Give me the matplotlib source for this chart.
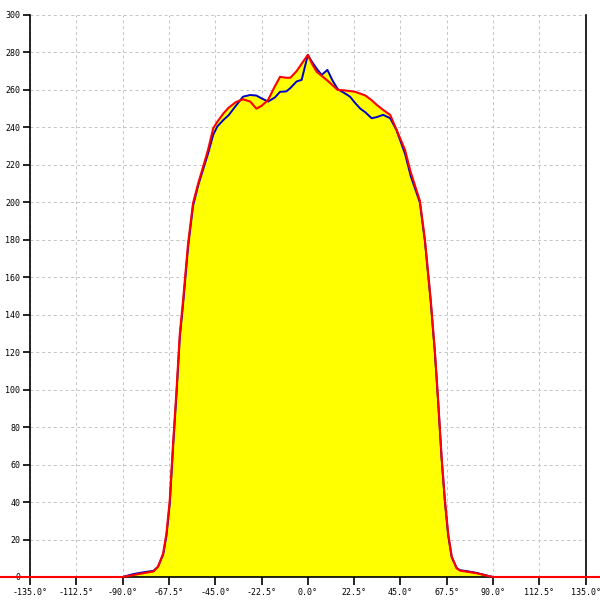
import matplotlib
matplotlib.use("Agg")
import matplotlib.pyplot as plt
import numpy as np

angles = [-150, -90, -85, -80, -75, -72.8, -70.3, -68.7, -67.1, -65.5, -63.8, -62.2, -60.6,
          -58.2, -55.8, -53.3, -48.5, -46, -44, -41, -38.5, -35, -31.5, -28, -25, -22.5,
          -19.3, -16, -13.5, -10.5, -8.5, -5.5, -3, 0, 2, 4.2, 6.7, 9.5, 12, 14.5, 17.5,
          20.5, 23, 25.5, 28, 31, 33.5, 36.6, 40, 43, 47.2, 50, 54.4, 56.9, 59.7, 60.8,
          61.7, 63.3, 65, 66.6, 68.2, 69.9, 72.3, 74, 78, 82, 87.7, 90, 150]

red_values = [0, 0, 1, 2, 3, 5.5, 12.6, 23.3, 41, 71, 100, 130, 148,
              178, 199.5, 210, 228, 239.5, 243, 247.5, 250.5, 253.5, 255, 253.8, 250, 251.5,
              254.7, 262, 267, 266.5, 266.5, 270, 274, 278.7, 274, 269.8, 267.5, 265, 262.5, 260, 259.8,
              259.4, 259, 258, 257, 254.5, 252, 249.3, 246.7, 239, 228, 216, 201, 180, 148, 133,
              121, 94.5, 64, 41, 23, 11, 4.6, 3.4, 2.7, 2, 0.5, 0, 0]

blue_values = [0, 0, 1.5, 2.5, 3.3, 5.5, 12, 22, 39, 69, 98, 128, 146,
               176, 198, 209, 226, 236, 240.5, 244, 246.5, 251.5, 256.4, 257.3, 257, 255.5,
               253.8, 256, 259, 259.2, 261, 264.5, 265.4, 278.7, 275, 271.5, 268, 270.7, 265, 260.5, 258.5,
               256.4, 253, 250, 248, 244.9, 245.5, 246.7, 244.9, 238.7, 226, 214, 200, 179, 147, 132,
               120, 93.5, 63, 40, 22, 10.5, 4.8, 3.6, 3, 2.2, 0.6, 0, 0]

x_ticks = [-135.0, -112.5, -90.0, -67.5, -45.0, -22.5, 0.0, 22.5, 45.0, 67.5, 90.0, 112.5, 135.0]
y_ticks = list(range(0, 301, 20))

x = np.array(angles)
r = np.array(red_values)
b = np.array(blue_values)

fig = plt.figure(figsize=(6, 6), dpi=100)
ax = fig.add_axes([30/600, 23/600, 555.7/600, 562/600])

ax.fill_between(x, 0, np.maximum(r, b), color="#ffff00", linewidth=0, zorder=1)
ax.plot(x, b, color="#0000c8", linewidth=1.4, zorder=3, clip_on=False)
ax.plot(x, r, color="#ff0000", linewidth=1.5, zorder=4, clip_on=False)

ax.set_xlim(-135, 135)
ax.set_ylim(0, 300)
ax.set_xticks(x_ticks)
ax.set_xticklabels([f"{v:.1f}°" for v in x_ticks])
ax.set_yticks(y_ticks)
ax.set_yticklabels([str(v) for v in y_ticks])

ax.grid(True, color="#c4c4c4", linestyle=(0, (3, 3)), linewidth=0.7, zorder=0)
ax.set_axisbelow(True)

for s in ["left", "right", "bottom"]:
    ax.spines[s].set_color("black")
    ax.spines[s].set_linewidth(1.2)
ax.spines["top"].set_visible(False)

ax.tick_params(axis="both", direction="out", colors="black", width=1.2)
ax.tick_params(axis="y", length=5, pad=2, right=False)
ax.tick_params(axis="x", length=6, pad=2)
for lab in ax.get_xticklabels() + ax.get_yticklabels():
    lab.set_family("DejaVu Sans Mono")
    lab.set_fontsize(6)

fig.savefig("out.png", dpi=100, facecolor="white")
